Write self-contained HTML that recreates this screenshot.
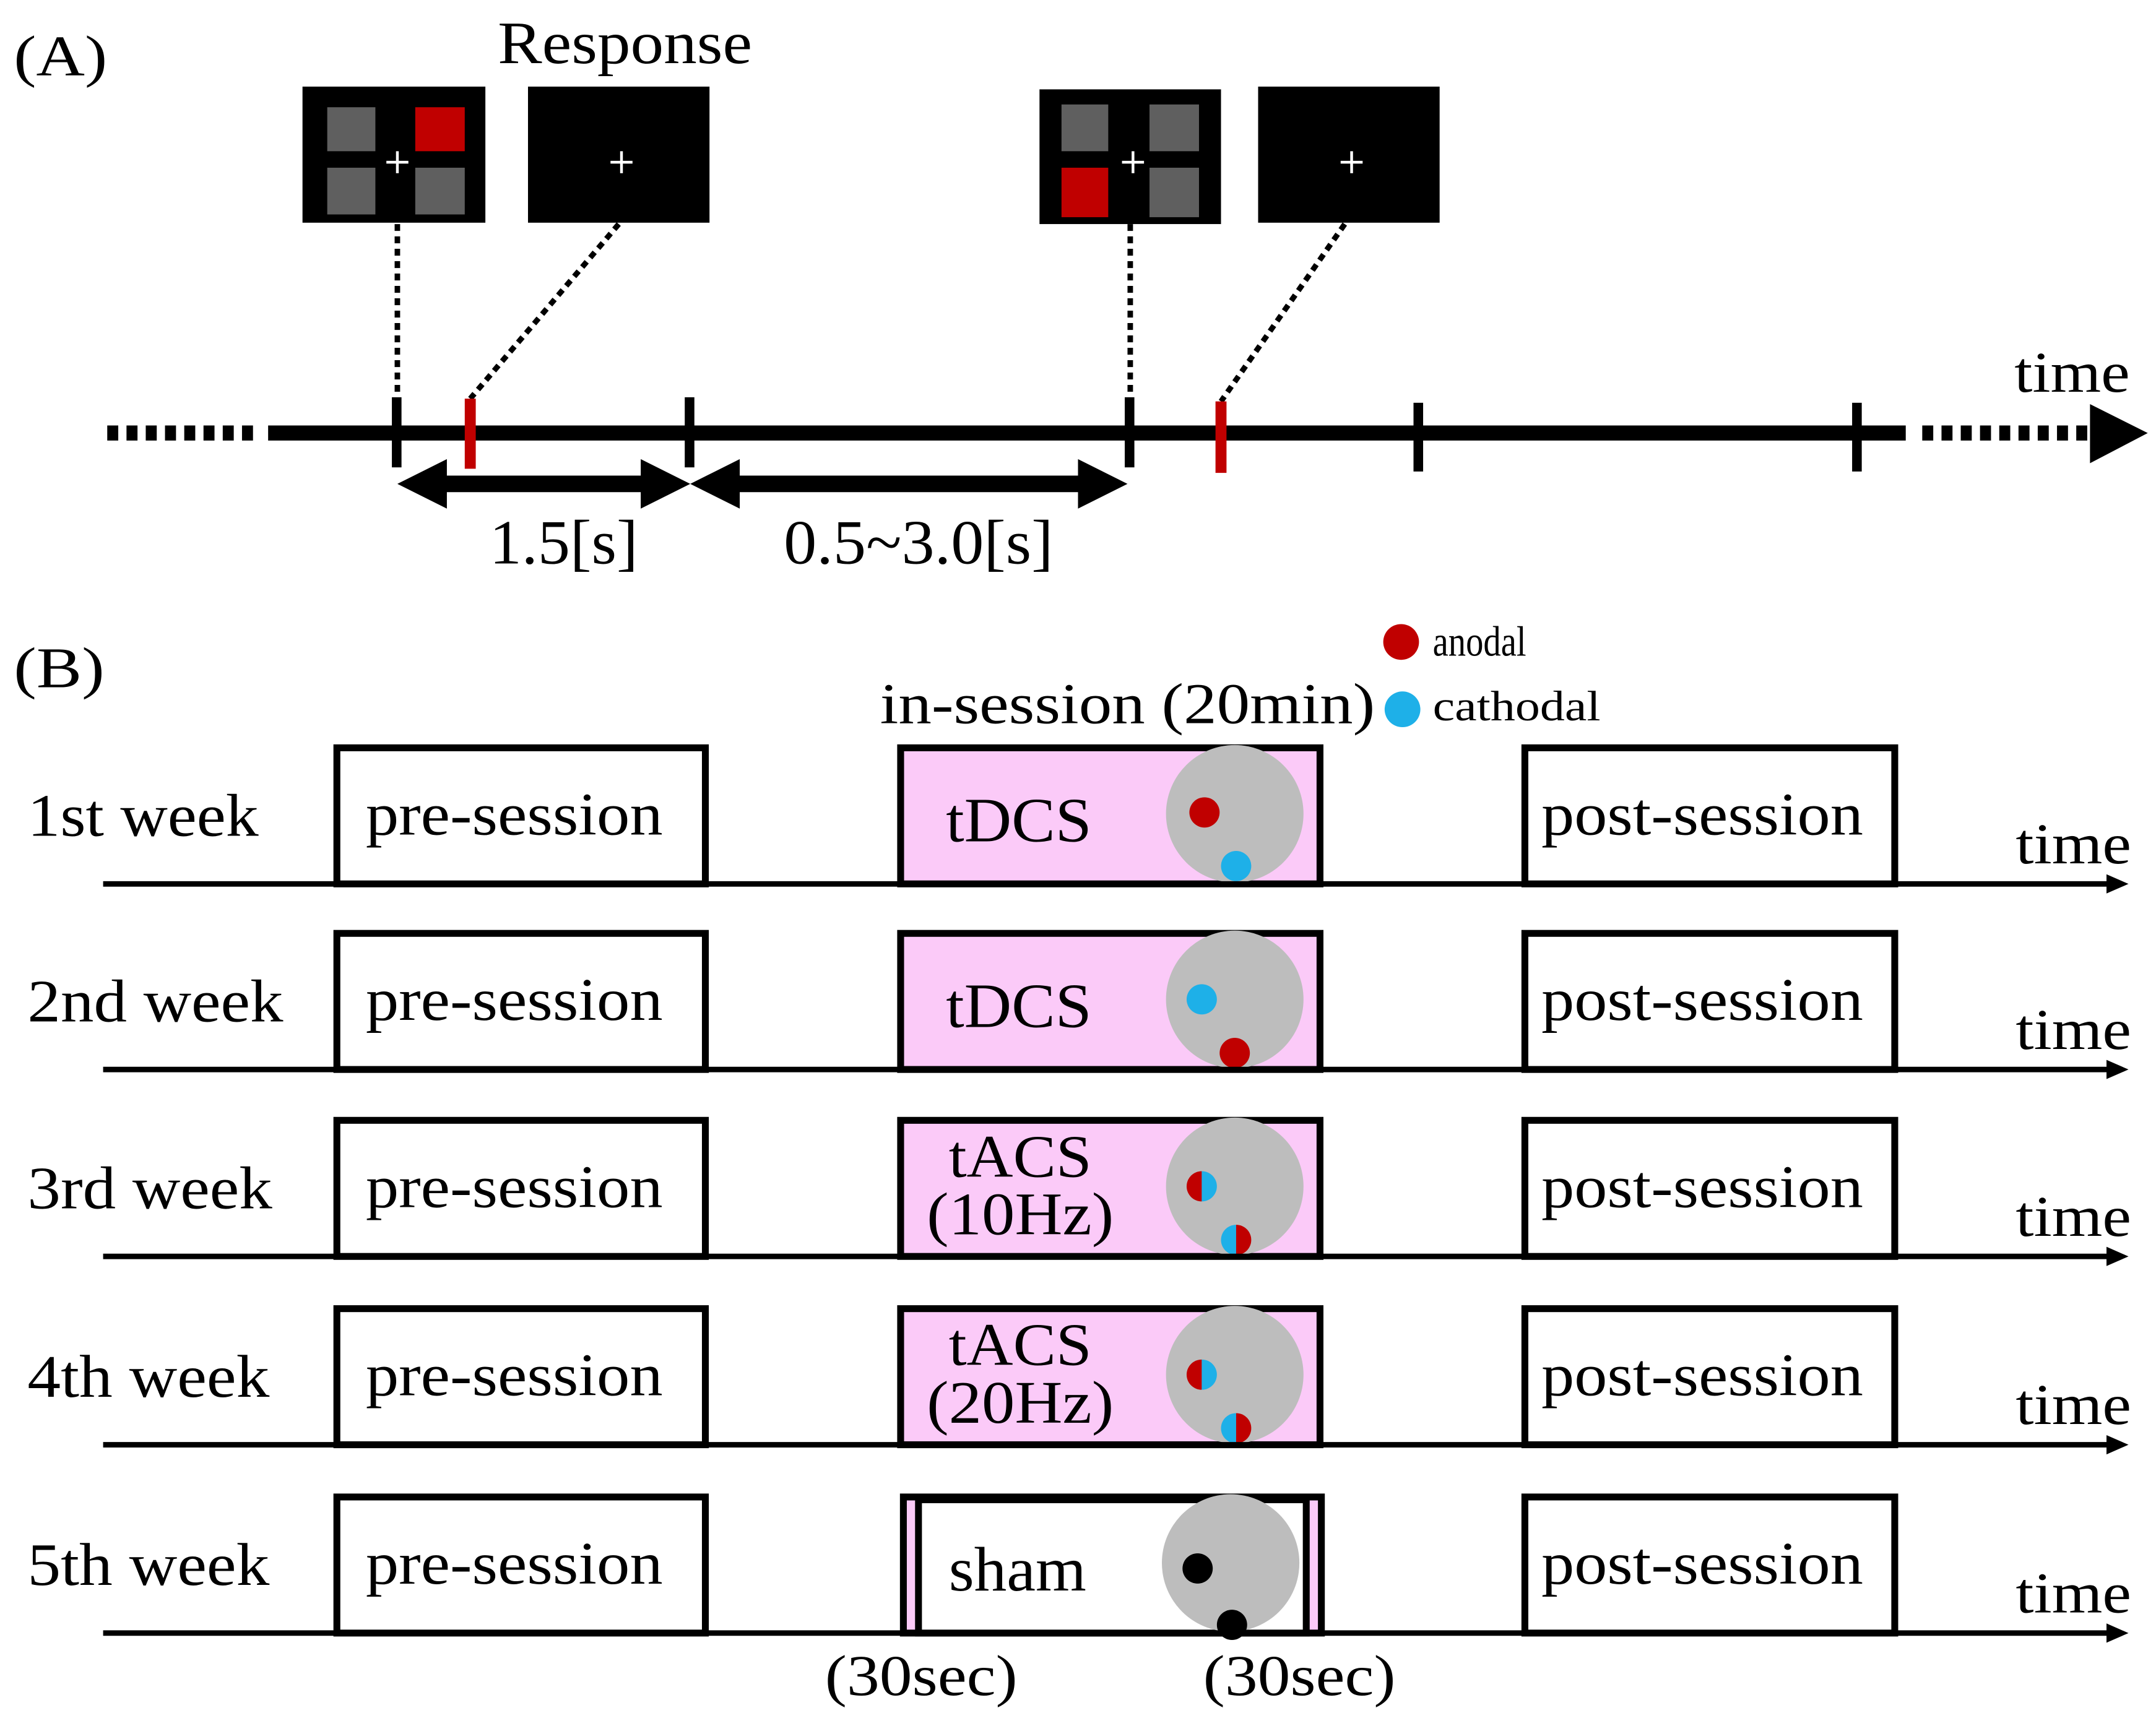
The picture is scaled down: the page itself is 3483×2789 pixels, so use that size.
<!DOCTYPE html>
<html><head><meta charset="utf-8"><style>html,body{margin:0;padding:0;background:#fff}svg{display:block}text{font-family:"Liberation Serif","Times New Roman",serif;fill:#000}</style></head><body>
<svg width="3483" height="2789" viewBox="0 0 1568 1255.6" preserveAspectRatio="none" xmlns="http://www.w3.org/2000/svg" font-family="Liberation Serif, Times New Roman, serif">
<defs>
<g id="row">
  <line x1="75" y1="643" x2="1535" y2="643" stroke="#000" stroke-width="4"/>
  <polygon points="1532,636 1548,643 1532,650" fill="#000"/>
  <rect x="245" y="544" width="268" height="99" fill="#fff" stroke="#000" stroke-width="5"/>
  <text x="374" y="607" font-size="44" text-anchor="middle" textLength="216" lengthAdjust="spacingAndGlyphs">pre-session</text>
  <rect x="1109" y="544" width="269" height="99" fill="#fff" stroke="#000" stroke-width="5"/>
  <text x="1238" y="607" font-size="44" text-anchor="middle" textLength="234" lengthAdjust="spacingAndGlyphs">post-session</text>
  <text x="1466" y="628" font-size="42" textLength="84" lengthAdjust="spacingAndGlyphs">time</text>
</g>
</defs>

<text x="10" y="55" font-size="42" textLength="68" lengthAdjust="spacingAndGlyphs">(A)</text>
<text x="362" y="46" font-size="44" textLength="185" lengthAdjust="spacingAndGlyphs">Response</text>

<rect x="220" y="63" width="133" height="99" fill="#000"/>
<rect x="238" y="78" width="35" height="32" fill="#5f5f5f"/>
<rect x="302" y="78" width="36" height="32" fill="#c00000"/>
<rect x="238" y="122" width="35" height="34" fill="#5f5f5f"/>
<rect x="302" y="122" width="36" height="34" fill="#5f5f5f"/>
<path d="M281 118h16M289 110v16" stroke="#fff" stroke-width="2"/>

<rect x="384" y="63" width="132" height="99" fill="#000"/>
<path d="M444 118h16M452 110v16" stroke="#fff" stroke-width="2"/>

<rect x="756" y="65" width="132" height="98" fill="#000"/>
<rect x="772" y="76" width="34" height="34" fill="#5f5f5f"/>
<rect x="836" y="76" width="36" height="34" fill="#5f5f5f"/>
<rect x="772" y="122" width="34" height="36" fill="#c00000"/>
<rect x="836" y="122" width="36" height="36" fill="#5f5f5f"/>
<path d="M816 118h16M824 110v16" stroke="#fff" stroke-width="2"/>

<rect x="915" y="63" width="132" height="99" fill="#000"/>
<path d="M975 118h16M983 110v16" stroke="#fff" stroke-width="2"/>

<g stroke="#000" stroke-width="4" stroke-dasharray="5,4">
<line x1="289" y1="163" x2="289" y2="290"/>
<line x1="450" y1="163" x2="342" y2="290"/>
<line x1="822" y1="163" x2="822" y2="290"/>
<line x1="978" y1="163" x2="888" y2="292"/>
</g>

<line x1="78" y1="315" x2="186" y2="315" stroke="#000" stroke-width="11" stroke-dasharray="8,6"/>
<line x1="195" y1="315" x2="1386" y2="315" stroke="#000" stroke-width="11"/>
<line x1="1398" y1="315" x2="1520" y2="315" stroke="#000" stroke-width="11" stroke-dasharray="8,6"/>
<polygon points="1520,294 1562,315 1520,337" fill="#000"/>

<g fill="#000">
<rect x="285" y="289" width="7" height="51"/>
<rect x="498" y="289" width="7" height="51"/>
<rect x="818" y="289" width="7" height="51"/>
<rect x="1028" y="293" width="7" height="50"/>
<rect x="1347" y="293" width="7" height="50"/>
</g>
<rect x="338" y="290" width="8" height="51" fill="#c00000"/>
<rect x="884" y="292" width="8" height="52" fill="#c00000"/>

<g fill="#000">
<polygon points="289,352 325,334 325,346 466,346 466,334 502,352 466,370 466,358 325,358 325,370"/>
<polygon points="502,352 538,334 538,346 784,346 784,334 820,352 784,370 784,358 538,358 538,370"/>
</g>
<text x="410" y="410" font-size="46" text-anchor="middle" textLength="108" lengthAdjust="spacingAndGlyphs">1.5[s]</text>
<text x="668" y="410" font-size="46" text-anchor="middle" textLength="196" lengthAdjust="spacingAndGlyphs">0.5~3.0[s]</text>
<text x="1465" y="285" font-size="42" textLength="84" lengthAdjust="spacingAndGlyphs">time</text>

<text x="10" y="500" font-size="42" textLength="66" lengthAdjust="spacingAndGlyphs">(B)</text>
<text x="640" y="526" font-size="42" textLength="360" lengthAdjust="spacingAndGlyphs">in-session (20min)</text>
<circle cx="1019" cy="467" r="13" fill="#c00000"/>
<text x="1042" y="477" font-size="31" textLength="68" lengthAdjust="spacingAndGlyphs">anodal</text>
<circle cx="1020" cy="516" r="13" fill="#1eb0e8"/>
<text x="1042" y="524" font-size="31" textLength="122" lengthAdjust="spacingAndGlyphs">cathodal</text>

<use href="#row"/>
<rect x="655" y="544" width="305" height="99" fill="#fbcaf8" stroke="#000" stroke-width="5"/>
<text x="688" y="612" font-size="46" textLength="106" lengthAdjust="spacingAndGlyphs">tDCS</text>
<circle cx="898" cy="592" r="50" fill="#bdbdbd"/>
<circle cx="876" cy="591" r="11" fill="#c00000"/>
<circle cx="899" cy="630" r="11" fill="#1eb0e8"/>
<line x1="655" y1="643" x2="960" y2="643" stroke="#000" stroke-width="4"/>
<text x="20" y="608" font-size="44" textLength="168" lengthAdjust="spacingAndGlyphs">1st week</text>

<g transform="translate(0,135)">
<use href="#row"/>
<rect x="655" y="544" width="305" height="99" fill="#fbcaf8" stroke="#000" stroke-width="5"/>
<text x="688" y="612" font-size="46" textLength="106" lengthAdjust="spacingAndGlyphs">tDCS</text>
<circle cx="898" cy="592" r="50" fill="#bdbdbd"/>
<circle cx="874" cy="592" r="11" fill="#1eb0e8"/>
<circle cx="898" cy="631" r="11" fill="#c00000"/>
<line x1="655" y1="643" x2="960" y2="643" stroke="#000" stroke-width="4"/>
<text x="20" y="608" font-size="44" textLength="186" lengthAdjust="spacingAndGlyphs">2nd week</text>
</g>

<g transform="translate(0,271)">
<use href="#row"/>
<rect x="655" y="544" width="305" height="99" fill="#fbcaf8" stroke="#000" stroke-width="5"/>
<text x="742" y="585" font-size="44" text-anchor="middle" textLength="104" lengthAdjust="spacingAndGlyphs">tACS</text>
<text x="742" y="627" font-size="44" text-anchor="middle" textLength="136" lengthAdjust="spacingAndGlyphs">(10Hz)</text>
<circle cx="898" cy="592" r="50" fill="#bdbdbd"/>
<path d="M874 581 A11 11 0 0 0 874 603 Z" fill="#c00000"/>
<path d="M874 581 A11 11 0 0 1 874 603 Z" fill="#1eb0e8"/>
<path d="M899 620 A11 11 0 0 0 899 642 Z" fill="#1eb0e8"/>
<path d="M899 620 A11 11 0 0 1 899 642 Z" fill="#c00000"/>
<line x1="655" y1="643" x2="960" y2="643" stroke="#000" stroke-width="4"/>
<text x="20" y="608" font-size="44" textLength="178" lengthAdjust="spacingAndGlyphs">3rd week</text>
</g>

<g transform="translate(0,408)">
<use href="#row"/>
<rect x="655" y="544" width="305" height="99" fill="#fbcaf8" stroke="#000" stroke-width="5"/>
<text x="742" y="585" font-size="44" text-anchor="middle" textLength="104" lengthAdjust="spacingAndGlyphs">tACS</text>
<text x="742" y="627" font-size="44" text-anchor="middle" textLength="136" lengthAdjust="spacingAndGlyphs">(20Hz)</text>
<circle cx="898" cy="592" r="50" fill="#bdbdbd"/>
<path d="M874 581 A11 11 0 0 0 874 603 Z" fill="#c00000"/>
<path d="M874 581 A11 11 0 0 1 874 603 Z" fill="#1eb0e8"/>
<path d="M899 620 A11 11 0 0 0 899 642 Z" fill="#1eb0e8"/>
<path d="M899 620 A11 11 0 0 1 899 642 Z" fill="#c00000"/>
<line x1="655" y1="643" x2="960" y2="643" stroke="#000" stroke-width="4"/>
<text x="20" y="608" font-size="44" textLength="176" lengthAdjust="spacingAndGlyphs">4th week</text>
</g>

<g transform="translate(0,545)">
<use href="#row"/>
<rect x="657" y="544" width="304" height="99" fill="#fbcaf8" stroke="#000" stroke-width="5"/>
<rect x="668" y="546" width="282" height="97" fill="#fff" stroke="#000" stroke-width="5"/>
<text x="690" y="612" font-size="46" textLength="100" lengthAdjust="spacingAndGlyphs">sham</text>
<circle cx="895" cy="592" r="50" fill="#bdbdbd"/>
<circle cx="871" cy="596" r="11" fill="#000"/>
<circle cx="896" cy="637" r="11" fill="#000"/>
<line x1="655" y1="643" x2="962" y2="643" stroke="#000" stroke-width="4"/>
<text x="20" y="608" font-size="44" textLength="176" lengthAdjust="spacingAndGlyphs">5th week</text>
</g>
<text x="670" y="1233" font-size="42" text-anchor="middle" textLength="140" lengthAdjust="spacingAndGlyphs">(30sec)</text>
<text x="945" y="1233" font-size="42" text-anchor="middle" textLength="140" lengthAdjust="spacingAndGlyphs">(30sec)</text>
</svg>
</body></html>
